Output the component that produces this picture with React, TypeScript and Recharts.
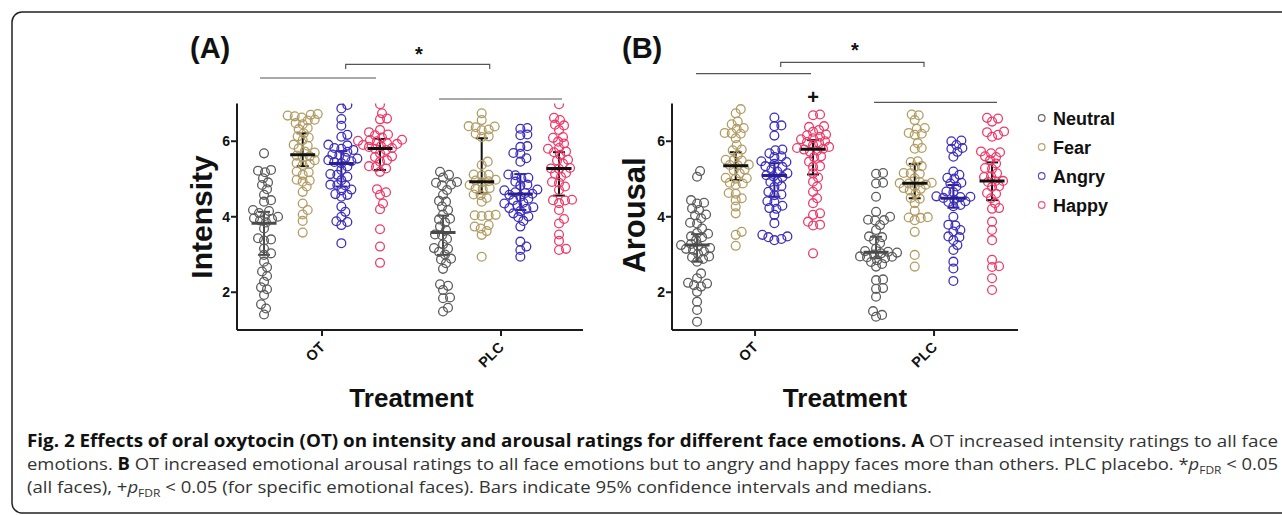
import { ScatterChart, Scatter, XAxis, YAxis, ErrorBar } from "recharts"

const treatments = ["OT", "PLC"]
const emotions = ["Neutral", "Fear", "Angry", "Happy"]
const yTicks = [2, 4, 6]

// intensity ratings, one array per treatment x emotion
const intensityOTNeutral = [5.68, 5.24, 5.22, 5.18, 5.02, 4.91, 4.84, 4.73, 4.58, 4.44, 4.4, 4.18, 4.15, 4.1, 4.02, 4.0, 3.96, 3.94, 3.9, 3.85, 3.69, 3.43, 3.4, 3.37, 3.16, 3.03, 2.99, 2.81, 2.66, 2.55, 2.43, 2.28, 2.13, 2.08, 1.93, 1.68, 1.57, 1.41]
const intensityOTFear = [6.72, 6.7, 6.68, 6.66, 6.63, 6.57, 6.55, 6.48, 6.45, 6.35, 6.32, 6.21, 6.13, 6.1, 6.03, 5.91, 5.88, 5.81, 5.73, 5.7, 5.62, 5.6, 5.57, 5.5, 5.42, 5.4, 5.37, 5.2, 5.18, 5.11, 4.98, 4.96, 4.93, 4.8, 4.66, 4.35, 4.18, 4.06, 3.89, 3.58]
const intensityOTAngry = [6.96, 6.87, 6.59, 6.41, 6.17, 6.12, 5.91, 5.89, 5.82, 5.8, 5.77, 5.72, 5.65, 5.63, 5.56, 5.54, 5.5, 5.47, 5.45, 5.42, 5.33, 5.24, 5.13, 5.11, 5.06, 4.97, 4.85, 4.84, 4.83, 4.72, 4.7, 4.6, 4.58, 4.53, 4.27, 4.13, 4.0, 3.88, 3.86, 3.78, 3.3]
const intensityOTHappy = [6.98, 6.74, 6.6, 6.58, 6.3, 6.24, 6.18, 6.16, 6.1, 6.04, 6.03, 6.01, 6.0, 5.95, 5.93, 5.9, 5.87, 5.85, 5.82, 5.8, 5.77, 5.68, 5.6, 5.58, 5.5, 5.46, 5.34, 5.32, 5.28, 5.19, 4.73, 4.65, 4.58, 4.35, 4.2, 3.67, 3.21, 2.78]
const intensityPLCNeutral = [5.19, 5.11, 5.04, 4.92, 4.9, 4.85, 4.83, 4.71, 4.58, 4.42, 4.4, 4.27, 4.18, 4.06, 3.95, 3.93, 3.85, 3.74, 3.65, 3.53, 3.51, 3.41, 3.27, 3.17, 3.15, 3.07, 3.0, 2.89, 2.87, 2.77, 2.62, 2.21, 2.17, 2.06, 1.86, 1.84, 1.59, 1.49]
const intensityPLCFear = [6.74, 6.56, 6.4, 6.39, 6.37, 6.31, 6.29, 6.2, 6.13, 6.11, 5.46, 5.37, 5.12, 5.11, 5.09, 4.98, 4.96, 4.94, 4.91, 4.84, 4.76, 4.75, 4.73, 4.59, 4.57, 4.5, 4.4, 4.05, 4.04, 4.03, 4.02, 3.78, 3.74, 3.69, 3.62, 3.52, 2.94]
const intensityPLCAngry = [6.35, 6.33, 6.18, 6.16, 5.87, 5.85, 5.69, 5.67, 5.55, 5.46, 5.12, 5.1, 5.03, 5.01, 4.93, 4.85, 4.83, 4.72, 4.7, 4.65, 4.63, 4.61, 4.58, 4.53, 4.48, 4.44, 4.37, 4.35, 4.3, 4.25, 4.23, 4.21, 4.15, 4.09, 4.01, 3.99, 3.89, 3.74, 3.34, 3.21, 3.12, 2.94]
const intensityPLCHappy = [6.98, 6.62, 6.56, 6.44, 6.42, 6.3, 6.11, 6.09, 5.99, 5.94, 5.82, 5.8, 5.73, 5.71, 5.64, 5.51, 5.49, 5.41, 5.29, 5.28, 5.27, 5.16, 5.14, 5.06, 4.92, 4.9, 4.8, 4.71, 4.45, 4.44, 4.43, 4.36, 4.18, 3.94, 3.82, 3.53, 3.36, 3.15, 3.12]

// arousal ratings
const arousalOTNeutral = [5.21, 5.06, 4.44, 4.37, 4.35, 4.22, 4.18, 4.06, 4.04, 3.96, 3.84, 3.82, 3.69, 3.57, 3.55, 3.48, 3.46, 3.38, 3.28, 3.25, 3.22, 3.17, 3.15, 3.12, 3.08, 3.02, 2.95, 2.93, 2.88, 2.81, 2.5, 2.37, 2.25, 2.23, 2.19, 2.15, 2.01, 1.75, 1.53, 1.22]
const arousalOTFear = [6.85, 6.74, 6.52, 6.45, 6.35, 6.33, 6.22, 6.21, 6.2, 6.08, 5.9, 5.78, 5.76, 5.64, 5.51, 5.5, 5.49, 5.38, 5.37, 5.36, 5.25, 5.23, 5.15, 5.03, 5.02, 5.01, 4.9, 4.88, 4.84, 4.63, 4.61, 4.49, 4.44, 4.27, 4.09, 3.6, 3.52, 3.23]
const arousalOTAngry = [6.63, 6.42, 6.4, 6.15, 5.78, 5.76, 5.68, 5.6, 5.58, 5.47, 5.45, 5.4, 5.34, 5.32, 5.25, 5.2, 5.15, 5.1, 5.07, 5.05, 4.94, 4.92, 4.81, 4.79, 4.66, 4.59, 4.57, 4.41, 4.39, 4.29, 4.23, 4.21, 4.05, 3.83, 3.52, 3.48, 3.46, 3.41, 3.38]
const arousalOTHappy = [6.71, 6.69, 6.4, 6.38, 6.3, 6.25, 6.18, 6.16, 6.12, 6.08, 6.05, 6.0, 5.98, 5.95, 5.9, 5.85, 5.82, 5.8, 5.78, 5.75, 5.72, 5.6, 5.58, 5.46, 5.34, 5.32, 5.15, 5.04, 4.93, 4.8, 4.66, 4.49, 4.36, 4.09, 4.05, 3.87, 3.79, 3.77, 3.03]
const arousalPLCNeutral = [5.16, 5.14, 4.9, 4.88, 4.53, 4.13, 4.0, 3.92, 3.91, 3.9, 3.78, 3.65, 3.48, 3.46, 3.38, 3.3, 3.16, 3.09, 3.07, 3.05, 3.03, 3.0, 2.95, 2.94, 2.93, 2.9, 2.85, 2.8, 2.75, 2.68, 2.34, 2.32, 2.11, 2.09, 1.88, 1.5, 1.4, 1.35]
const arousalPLCFear = [6.71, 6.69, 6.56, 6.35, 6.33, 6.22, 6.2, 6.17, 5.95, 5.82, 5.8, 5.47, 5.45, 5.34, 5.32, 5.16, 5.15, 5.14, 5.02, 4.92, 4.9, 4.89, 4.88, 4.85, 4.8, 4.76, 4.74, 4.7, 4.62, 4.5, 4.48, 4.36, 4.16, 3.99, 3.98, 3.97, 3.91, 3.6, 2.99, 2.68]
const arousalPLCAngry = [6.02, 6.0, 5.9, 5.82, 5.8, 5.72, 5.59, 5.2, 5.11, 5.03, 5.01, 4.9, 4.88, 4.8, 4.67, 4.65, 4.54, 4.53, 4.52, 4.5, 4.45, 4.41, 4.39, 4.31, 4.28, 4.0, 3.79, 3.77, 3.65, 3.61, 3.48, 3.46, 3.38, 3.25, 3.12, 2.81, 2.63, 2.3]
const arousalPLCHappy = [6.62, 6.6, 6.52, 6.26, 6.24, 6.17, 6.12, 5.73, 5.71, 5.68, 5.6, 5.58, 5.5, 5.41, 5.29, 5.27, 5.15, 5.07, 5.05, 4.95, 4.94, 4.92, 4.81, 4.79, 4.63, 4.61, 4.49, 4.36, 4.23, 4.21, 3.87, 3.65, 3.38, 2.86, 2.69, 2.67, 2.37, 2.06]

// medians and 95% CI, order Neutral, Fear, Angry, Happy
const intensityMedianOT = [3.83, 5.64, 5.41, 5.81]
const intensityLowOT = [2.99, 5.34, 4.8, 5.24]
const intensityHighOT = [4.13, 6.21, 5.74, 6.06]
const intensityMedianPLC = [3.58, 4.93, 4.6, 5.28]
const intensityLowPLC = [2.99, 4.62, 4.18, 4.56]
const intensityHighPLC = [4.03, 6.08, 5.13, 5.71]
const arousalMedianOT = [3.25, 5.35, 5.09, 5.79]
const arousalLowOT = [2.81, 4.97, 4.53, 5.12]
const arousalHighOT = [3.54, 5.71, 5.42, 6.03]
const arousalMedianPLC = [3.06, 4.89, 4.49, 4.95]
const arousalLowPLC = [2.9, 4.49, 4.24, 4.44]
const arousalHighPLC = [3.47, 5.4, 4.84, 5.44]

const pointColors = ["#5c5c5c", "#b29c63", "#3d2fbd", "#ef3a6a"]
const barColors = ["#4a4a4a", "#111111", "#2a1f8f", "#111111"]
const legendColors = ["#6a6a6a", "#b8a372", "#5a4dc4", "#f0587c"]
const AXIS = "#1c1c1c"
const FONT = "Liberation Sans, Arial, sans-serif"

const PX_PER_X = 179
const PX_PER_Y = 37.75
const DODGE = [-0.324, -0.108, 0.108, 0.324]

// simple beeswarm: push each point sideways until it doesn't overlap too much
function swarm(values: number[], center: number) {
  const placed: { dx: number; py: number }[] = []
  const D = 6.2
  return [...values]
    .sort((a, b) => a - b)
    .map((v) => {
      const py = v * PX_PER_Y
      let dx = 0
      for (let k = 0; k < 60; k++) {
        const c = k === 0 ? 0 : (k % 2 ? 1 : -1) * Math.ceil(k / 2)
        if (placed.every((p) => (p.dx - c) ** 2 + (p.py - py) ** 2 >= D * D)) {
          dx = c
          break
        }
      }
      placed.push({ dx, py })
      return { x: center + dx / PX_PER_X, y: v }
    })
}

function TreatmentTick(props: any) {
  const { x, y, payload } = props
  const tx = x + 4
  const ty = y + 10
  return (
    <text
      x={tx}
      y={ty}
      transform={`rotate(-45 ${tx} ${ty})`}
      textAnchor="end"
      fontSize={14.5}
      fontWeight={700}
      fill="#111"
      fontFamily={FONT}
    >
      {treatments[payload.value - 1]}
    </text>
  )
}

function Panel(props: any) {
  const { groups, medians, lows, highs, width, margin, domain } = props
  return (
    <ScatterChart width={width} height={515} margin={margin}>
      <XAxis
        type="number"
        dataKey="x"
        domain={domain}
        ticks={[1, 2]}
        allowDataOverflow
        height={60}
        interval={0}
        axisLine={{ stroke: AXIS, strokeWidth: 2 }}
        tickLine={{ stroke: AXIS, strokeWidth: 2 }}
        tickSize={6}
        tick={(p: any) => <TreatmentTick {...p} />}
      />
      <YAxis
        type="number"
        dataKey="y"
        domain={[1, 7]}
        ticks={yTicks}
        allowDataOverflow
        width={50}
        axisLine={{ stroke: AXIS, strokeWidth: 2 }}
        tickLine={{ stroke: AXIS, strokeWidth: 2 }}
        tickSize={6}
        tickMargin={1}
        tick={{ fontSize: 14, fontWeight: 700, fill: "#111", fontFamily: FONT }}
      />
      {emotions.map((em, e) => (
        <Scatter
          key={em}
          name={em}
          data={[...swarm(groups[0][e], 1 + DODGE[e]), ...swarm(groups[1][e], 2 + DODGE[e])]}
          isAnimationActive={false}
          shape={(p: any) => (
            <circle cx={p.cx} cy={p.cy} r={4.4} fill="none" stroke={pointColors[e]} strokeWidth={1.3} />
          )}
        />
      ))}
      {emotions.map((em, e) => (
        <Scatter
          key={em + "-median"}
          data={[0, 1].map((t) => ({
            x: t + 1 + DODGE[e],
            y: medians[t][e],
            err: [medians[t][e] - lows[t][e], highs[t][e] - medians[t][e]],
          }))}
          isAnimationActive={false}
          shape={(p: any) => (
            <line x1={p.cx - 12.5} x2={p.cx + 12.5} y1={p.cy} y2={p.cy} stroke={barColors[e]} strokeWidth={3} />
          )}
        >
          <ErrorBar dataKey="err" direction="y" width={6} stroke={barColors[e]} strokeWidth={2} isAnimationActive={false} />
        </Scatter>
      ))}
    </ScatterChart>
  )
}

export default function App() {
  const intensityGroups = [
    [intensityOTNeutral, intensityOTFear, intensityOTAngry, intensityOTHappy],
    [intensityPLCNeutral, intensityPLCFear, intensityPLCAngry, intensityPLCHappy],
  ]
  const arousalGroups = [
    [arousalOTNeutral, arousalOTFear, arousalOTAngry, arousalOTHappy],
    [arousalPLCNeutral, arousalPLCFear, arousalPLCAngry, arousalPLCHappy],
  ]
  const sub = (
    <>
      <tspan fontStyle="italic">p</tspan>
      <tspan fontSize={11} dy={4}>FDR</tspan>
    </>
  )
  return (
    <div style={{ position: "absolute", left: 0, top: 0, width: 1282, height: 515, background: "#fff" }}>
      <div style={{ position: "absolute", left: 0, top: 0 }}>
        <Panel
          groups={intensityGroups}
          medians={[intensityMedianOT, intensityMedianPLC]}
          lows={[intensityLowOT, intensityLowPLC]}
          highs={[intensityHighOT, intensityHighPLC]}
          width={600}
          margin={{ top: 103.5, right: 17, bottom: 125, left: 187 }}
          domain={[0.525, 2.458]}
        />
      </div>
      <div style={{ position: "absolute", left: 600, top: 0 }}>
        <Panel
          groups={arousalGroups}
          medians={[arousalMedianOT, arousalMedianPLC]}
          lows={[arousalLowOT, arousalLowPLC]}
          highs={[arousalHighOT, arousalHighPLC]}
          width={682}
          margin={{ top: 103.5, right: 264, bottom: 125, left: 22 }}
          domain={[0.536, 2.469]}
        />
      </div>
      <svg width={1282} height={515} style={{ position: "absolute", left: 0, top: 0, pointerEvents: "none" }}>
        <rect x={12} y={12} width={1320} height={501} rx={10} fill="none" stroke="#222" strokeWidth={1.5} />

        <g fontFamily={FONT} fontWeight={700} fill="#111">
          <text x={190} y={58} fontSize={29}>(A)</text>
          <text x={622} y={58} fontSize={29}>(B)</text>
          <text x={212} y={217} fontSize={30} textAnchor="middle" transform="rotate(-90 212 217)">Intensity</text>
          <text x={645} y={215} fontSize={31} textAnchor="middle" transform="rotate(-90 645 215)">Arousal</text>
          <text x={411.5} y={407} fontSize={26} textAnchor="middle">Treatment</text>
          <text x={845} y={407} fontSize={26} textAnchor="middle">Treatment</text>
          <text x={419} y={61} fontSize={20} textAnchor="middle">*</text>
          <text x={855} y={57} fontSize={20} textAnchor="middle">*</text>
          <text x={813} y={104} fontSize={20} textAnchor="middle">+</text>
        </g>

        <g stroke="#555" strokeWidth={1.2} fill="none">
          <line x1={260} y1={78} x2={376} y2={78} />
          <line x1={439} y1={99} x2={562} y2={99} />
          <path d="M345.7 69 V64.3 H489.7 V69" />
          <line x1={696} y1={73.7} x2={811} y2={73.7} />
          <line x1={874} y1={102.3} x2={997} y2={102.3} />
          <path d="M780.7 67 V62.3 H924 V67" />
        </g>

        {emotions.map((em, e) => (
          <g key={em}>
            <circle cx={1041.7} cy={118 + e * 29} r={3.3} fill="none" stroke={legendColors[e]} strokeWidth={1.2} />
            <text x={1053} y={125 + e * 29} fontSize={18} fontWeight={700} fill="#111" fontFamily={FONT}>
              {em}
            </text>
          </g>
        ))}

        <g fontFamily="Open Sans, sans-serif" fontSize={17} fill="#333">
          <text x={27} y={447} textLength={1251} lengthAdjust="spacingAndGlyphs">
            <tspan fontWeight={700} fill="#111">
              Fig. 2 Effects of oral oxytocin (OT) on intensity and arousal ratings for different face emotions. A
            </tspan>
            <tspan> OT increased intensity ratings to all face</tspan>
          </text>
          <text x={27} y={470} textLength={1251} lengthAdjust="spacingAndGlyphs">
            <tspan>emotions. </tspan>
            <tspan fontWeight={700} fill="#111">B</tspan>
            <tspan> OT increased emotional arousal ratings to all face emotions but to angry and happy faces more than others. PLC placebo. *</tspan>
            {sub}
            <tspan dy={-4}> &lt; 0.05</tspan>
          </text>
          <text x={27} y={493} textLength={905} lengthAdjust="spacingAndGlyphs">
            <tspan>(all faces), +</tspan>
            {sub}
            <tspan dy={-4}> &lt; 0.05 (for specific emotional faces). Bars indicate 95% confidence intervals and medians.</tspan>
          </text>
        </g>
      </svg>
    </div>
  )
}
